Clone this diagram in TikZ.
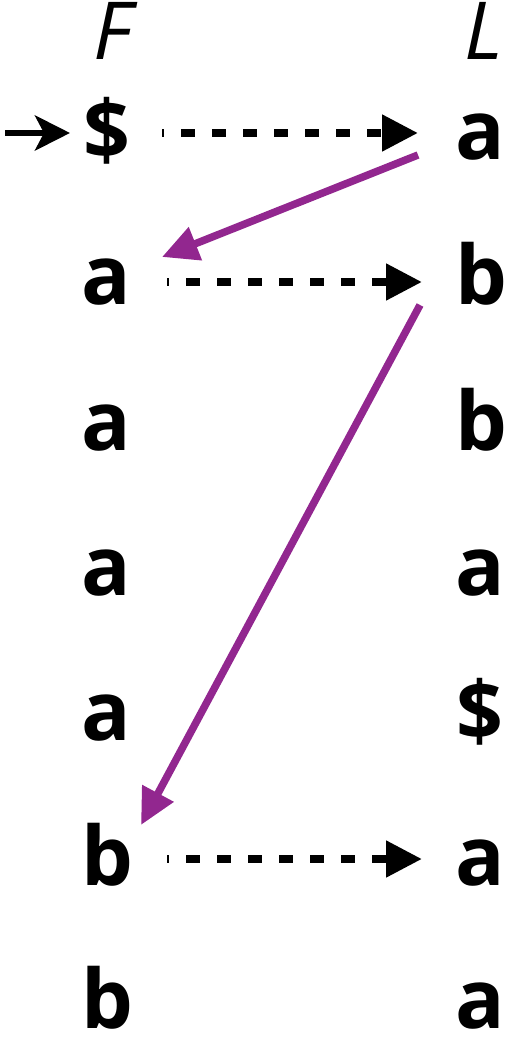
\documentclass[tikz,border=0pt]{standalone}
\usepackage{fontspec}
\setmainfont{Open Sans}
\usetikzlibrary{arrows.meta,calc}
\definecolor{arrpurple}{HTML}{92278F}
\begin{document}
\begin{tikzpicture}[x=1pt,y=-1pt,
  let/.style={font=\fontsize{82}{82}\selectfont\bfseries, inner sep=0pt, text depth=0pt, anchor=base},
  head/.style={font=\fontsize{80}{80}\selectfont\itshape, inner sep=0pt, text depth=0pt, anchor=base},
  dasharr/.style={line width=8pt, dash pattern=on 14pt off 17pt, dash phase=12pt, -{Triangle[length=36pt,width=35pt]}},
  purarr/.style={line width=7.5pt, arrpurple, -{Triangle[length=36pt,width=34pt]}},
  startarr/.style={line width=6pt, -{Stealth[length=35pt,width=35pt,inset=9pt]}}]
\useasboundingbox (0,0) rectangle (509,1040);
\node[head] (Fh) at (113,60) {F};
\node[head] (Lh) at (484,60) {L};
\node[let] (F1) at (107,160) {\$};
\node[let] (F2) at (106,305) {a};
\node[let] (F3) at (106,450) {a};
\node[let] (F4) at (106,595) {a};
\node[let] (F5) at (106,740) {a};
\node[let] (F6) at (107,885) {b};
\node[let] (F7) at (107,1028) {b};
\node[let] (L1) at (480,160) {a};
\node[let] (L2) at (481,305) {b};
\node[let] (L3) at (481,450) {b};
\node[let] (L4) at (480,595) {a};
\node[let] (L5) at (480,740) {\$};
\node[let] (L6) at (480,885) {a};
\node[let] (L7) at (480,1028) {a};
\coordinate (start) at (5,133);
\draw[startarr] (start) -- ($(F1.base)+(-37,-27)$);
\draw[dasharr] ($(F1.base)+(55,-27)$) -- ($(L1.base)+(-62,-27)$);
\draw[dasharr] ($(F2.base)+(61,-23)$) -- ($(L2.base)+(-59,-23)$);
\draw[dasharr] ($(F6.base)+(60,-26)$) -- ($(L6.base)+(-58,-26)$);
\draw[purarr] ($(L1.base)+(-62,-5)$) -- ($(F2.base)+(56,-48)$);
\draw[purarr] ($(L2.base)+(-61,0)$) -- ($(F6.base)+(34,-60)$);
\end{tikzpicture}
\end{document}
